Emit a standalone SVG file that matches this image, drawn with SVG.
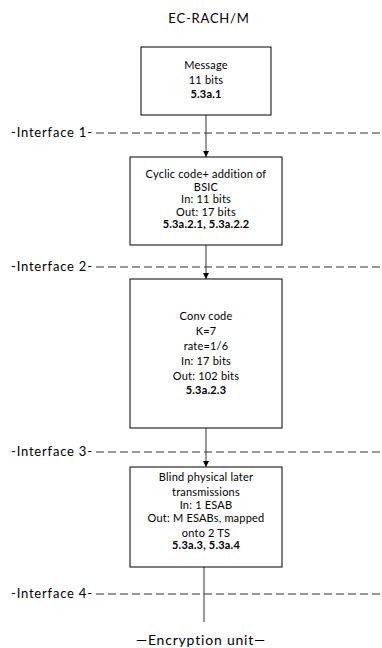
<svg xmlns="http://www.w3.org/2000/svg" width="382" height="648" viewBox="0 0 382 648">
<style>
text{font-family:Lato,"Liberation Sans",sans-serif;fill:#000}
.t{font-size:11px;text-anchor:middle;letter-spacing:0.2px}
.b{font-weight:bold}
.lbl{font-size:13px;letter-spacing:0.8px}
.box{fill:#fff;stroke:#000;stroke-width:1}
.dash{stroke:#333;stroke-width:1;stroke-dasharray:8,4;fill:none}
.con{stroke:#333;stroke-width:1;fill:none}
</style>
<defs>
<marker id="ah" markerWidth="6" markerHeight="6" refX="6" refY="3" orient="auto" markerUnits="userSpaceOnUse">
<path d="M0,0 L6,3 L0,6 Z" fill="#000"/>
</marker>
</defs>
<rect width="382" height="648" fill="#fff"/>
<text x="209" y="23" class="lbl" text-anchor="middle">EC-RACH/M</text>
<g id="interfaces">
<text x="11" y="137" class="lbl">-Interface 1-</text>
<line x1="96" y1="133" x2="382" y2="133" class="dash"/>
<text x="11" y="271" class="lbl">-Interface 2-</text>
<line x1="96" y1="267" x2="382" y2="267" class="dash"/>
<text x="11" y="456" class="lbl">-Interface 3-</text>
<line x1="96" y1="452" x2="382" y2="452" class="dash"/>
<text x="11" y="598" class="lbl">-Interface 4-</text>
<line x1="96" y1="594" x2="382" y2="594" class="dash"/>
</g>
<g id="connectors">
<line x1="206" y1="115" x2="206" y2="157" class="con" marker-end="url(#ah)"/>
<line x1="206" y1="245" x2="206" y2="279" class="con" marker-end="url(#ah)"/>
<line x1="206" y1="428" x2="206" y2="467" class="con" marker-end="url(#ah)"/>
<line x1="204" y1="567" x2="204" y2="622" class="con"/>
</g>
<g id="n1">
<rect x="141" y="47" width="130" height="68" class="box"/>
<text x="206" y="69" class="t">Message</text>
<text x="206" y="84" class="t">11 bits</text>
<text x="206" y="98" class="t b">5.3a.1</text>
</g>
<g id="n2">
<rect x="130" y="157" width="152" height="88" class="box"/>
<text x="206" y="178" class="t">Cyclic code+ addition of</text>
<text x="206" y="191" class="t">BSIC</text>
<text x="206" y="203" class="t">In: 11 bits</text>
<text x="206" y="216" class="t">Out: 17 bits</text>
<text x="206" y="228" class="t b">5.3a.2.1, 5.3a.2.2</text>
</g>
<g id="n3">
<rect x="130" y="279" width="152" height="149" class="box"/>
<text x="206" y="320" class="t">Conv code</text>
<text x="206" y="335" class="t">K=7</text>
<text x="206" y="350" class="t">rate=1/6</text>
<text x="206" y="365" class="t">In: 17 bits</text>
<text x="206" y="380" class="t">Out: 102 bits</text>
<text x="206" y="394" class="t b">5.3a.2.3</text>
</g>
<g id="n4">
<rect x="130" y="467" width="152" height="100" class="box"/>
<text x="206" y="481" class="t">Blind physical later</text>
<text x="206" y="496" class="t">transmissions</text>
<text x="206" y="509" class="t">In: 1 ESAB</text>
<text x="206" y="522" class="t">Out: M ESABs, mapped</text>
<text x="206" y="537" class="t">onto 2 TS</text>
<text x="206" y="549" class="t b">5.3a.3, 5.3a.4</text>
</g>
<g id="n5">
<text x="201" y="645" class="lbl" text-anchor="middle" style="font-size:14px">—Encryption unit—</text>
</g>
</svg>
